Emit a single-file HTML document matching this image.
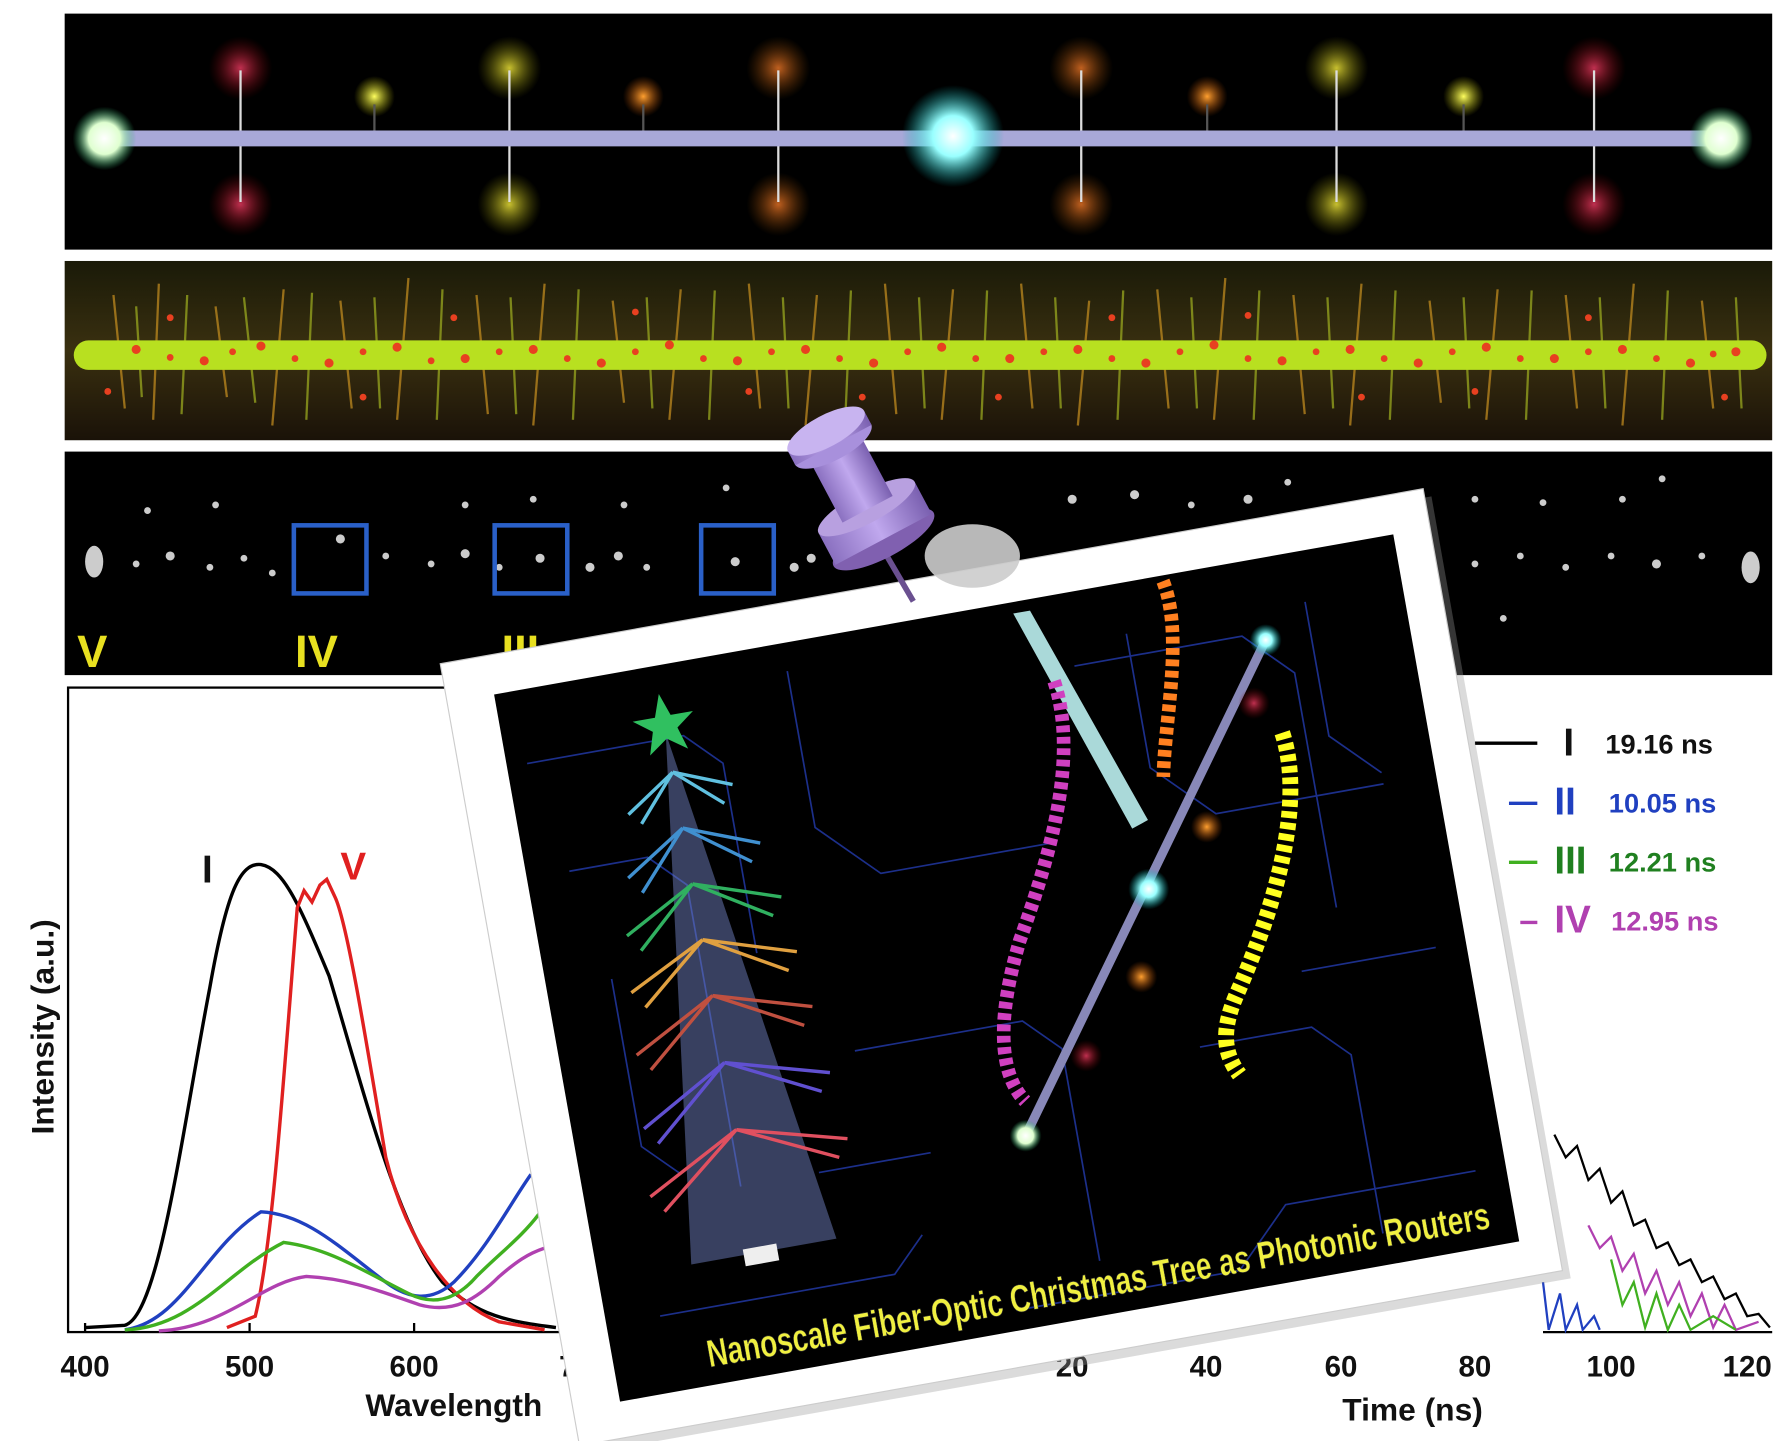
<!DOCTYPE html>
<html><head><meta charset="utf-8"><style>
html,body{margin:0;padding:0;background:#fff;}
svg{display:block;}
text{font-family:"Liberation Sans",Arial,sans-serif;font-weight:bold;}
</style></head><body>
<svg width="1779" height="1441" viewBox="0 0 1568 1270" preserveAspectRatio="none" xmlns="http://www.w3.org/2000/svg">
<defs>
<radialGradient id="gG"><stop offset="0" stop-color="#fff"/><stop offset="0.5" stop-color="#dfffd0"/><stop offset="1" stop-color="#2a6" stop-opacity="0"/></radialGradient>
<radialGradient id="gC"><stop offset="0" stop-color="#fff"/><stop offset="0.4" stop-color="#9ff"/><stop offset="1" stop-color="#0aa" stop-opacity="0"/></radialGradient>
<radialGradient id="gR"><stop offset="0" stop-color="#c03050"/><stop offset="1" stop-color="#600" stop-opacity="0"/></radialGradient>
<radialGradient id="gY"><stop offset="0" stop-color="#c8c030"/><stop offset="1" stop-color="#660" stop-opacity="0"/></radialGradient>
<radialGradient id="gO"><stop offset="0" stop-color="#c06020"/><stop offset="1" stop-color="#630" stop-opacity="0"/></radialGradient>
<radialGradient id="gYb"><stop offset="0" stop-color="#ffff60"/><stop offset="1" stop-color="#aa0" stop-opacity="0"/></radialGradient>
<radialGradient id="gOb"><stop offset="0" stop-color="#ffa030"/><stop offset="1" stop-color="#a40" stop-opacity="0"/></radialGradient>
<linearGradient id="bar2" x1="0" y1="0" x2="0" y2="1"><stop offset="0" stop-color="#1a1a08"/><stop offset="0.5" stop-color="#3a3010"/><stop offset="1" stop-color="#1a1208"/></linearGradient>
<linearGradient id="pin" x1="0" y1="0" x2="1" y2="0"><stop offset="0" stop-color="#8a70c0"/><stop offset="0.5" stop-color="#c0a8ee"/><stop offset="1" stop-color="#7a60b0"/></linearGradient>
</defs>
<rect width="1568" height="1270" fill="#fff"/>

<!-- Panel 1 -->
<rect x="57" y="12" width="1505" height="208" fill="#000"/>
<g>
<circle cx="212" cy="60" r="28" fill="url(#gR)"/><circle cx="212" cy="180" r="28" fill="url(#gR)"/>
<circle cx="449" cy="60" r="28" fill="url(#gY)"/><circle cx="449" cy="180" r="28" fill="url(#gY)"/>
<circle cx="686" cy="60" r="28" fill="url(#gO)"/><circle cx="686" cy="180" r="28" fill="url(#gO)"/>
<circle cx="953" cy="60" r="28" fill="url(#gO)"/><circle cx="953" cy="180" r="28" fill="url(#gO)"/>
<circle cx="1178" cy="60" r="28" fill="url(#gY)"/><circle cx="1178" cy="180" r="28" fill="url(#gY)"/>
<circle cx="1405" cy="60" r="28" fill="url(#gR)"/><circle cx="1405" cy="180" r="28" fill="url(#gR)"/>
<circle cx="330" cy="85" r="18" fill="url(#gYb)"/><circle cx="567" cy="85" r="18" fill="url(#gOb)"/>
<circle cx="1064" cy="85" r="18" fill="url(#gOb)"/><circle cx="1290" cy="85" r="18" fill="url(#gYb)"/>
<g stroke="#ddd" stroke-width="2">
<line x1="212" y1="62" x2="212" y2="178"/><line x1="449" y1="62" x2="449" y2="178"/><line x1="686" y1="62" x2="686" y2="178"/>
<line x1="953" y1="62" x2="953" y2="178"/><line x1="1178" y1="62" x2="1178" y2="178"/><line x1="1405" y1="62" x2="1405" y2="178"/>
</g>
<g stroke="#555" stroke-width="2"><line x1="330" y1="92" x2="330" y2="120"/><line x1="567" y1="92" x2="567" y2="120"/><line x1="1064" y1="92" x2="1064" y2="120"/><line x1="1290" y1="92" x2="1290" y2="120"/></g>
<rect x="90" y="115" width="1430" height="14" rx="7" fill="#a8a8d8"/>
<circle cx="92" cy="122" r="28" fill="url(#gG)"/><circle cx="1517" cy="122" r="28" fill="url(#gG)"/>
<ellipse cx="840" cy="120" rx="45" ry="45" fill="url(#gC)"/>
</g>

<!-- Panel 2 -->
<rect x="57" y="230" width="1505" height="158" fill="url(#bar2)"/>
<g stroke="#c89020" stroke-width="2" opacity="0.7">
<path d="M100 260 L110 360 M140 250 L135 370 M190 270 L200 350 M250 255 L240 375 M300 265 L310 360 M360 245 L350 370 M420 260 L430 365 M480 250 L470 375 M540 265 L550 355 M600 255 L590 370 M660 250 L670 360 M720 260 L710 375 M780 250 L790 365 M840 255 L830 370 M900 250 L910 360 M960 265 L950 375 M1020 255 L1030 360 M1080 245 L1070 370 M1140 260 L1150 365 M1200 250 L1190 375 M1260 265 L1270 355 M1320 255 L1310 370 M1380 260 L1390 360 M1440 250 L1430 375 M1500 265 L1510 360"/>
<path d="M120 270 L125 350 M165 260 L160 365 M215 262 L225 355 M275 258 L270 370 M330 262 L335 360 M390 255 L385 370 M450 262 L455 365 M510 255 L505 370 M570 262 L575 360 M630 256 L625 370 M690 262 L695 360 M750 256 L745 370 M810 262 L815 360 M870 256 L865 370 M930 262 L935 360 M990 256 L985 370 M1050 262 L1055 360 M1110 256 L1105 370 M1170 262 L1175 360 M1230 256 L1225 370 M1290 262 L1295 360 M1350 256 L1345 370 M1410 262 L1415 360 M1470 256 L1465 370 M1530 262 L1535 360" stroke="#a0b020"/>
</g>
<rect x="65" y="300" width="1492" height="26" rx="13" fill="#b8e020"/>
<g fill="#e84020">
<circle cx="120" cy="308" r="4"/><circle cx="180" cy="318" r="4"/><circle cx="230" cy="305" r="4"/><circle cx="290" cy="320" r="4"/><circle cx="350" cy="306" r="4"/><circle cx="410" cy="316" r="4"/><circle cx="470" cy="308" r="4"/><circle cx="530" cy="320" r="4"/><circle cx="590" cy="304" r="4"/><circle cx="650" cy="318" r="4"/><circle cx="710" cy="308" r="4"/><circle cx="770" cy="320" r="4"/><circle cx="830" cy="306" r="4"/><circle cx="890" cy="316" r="4"/><circle cx="950" cy="308" r="4"/><circle cx="1010" cy="320" r="4"/><circle cx="1070" cy="304" r="4"/><circle cx="1130" cy="318" r="4"/><circle cx="1190" cy="308" r="4"/><circle cx="1250" cy="320" r="4"/><circle cx="1310" cy="306" r="4"/><circle cx="1370" cy="316" r="4"/><circle cx="1430" cy="308" r="4"/><circle cx="1490" cy="320" r="4"/><circle cx="1530" cy="310" r="4"/>
<circle cx="150" cy="315" r="3"/><circle cx="205" cy="310" r="3"/><circle cx="260" cy="316" r="3"/><circle cx="320" cy="310" r="3"/><circle cx="380" cy="318" r="3"/><circle cx="440" cy="310" r="3"/><circle cx="500" cy="316" r="3"/><circle cx="560" cy="310" r="3"/><circle cx="620" cy="316" r="3"/><circle cx="680" cy="310" r="3"/><circle cx="740" cy="316" r="3"/><circle cx="800" cy="310" r="3"/><circle cx="860" cy="316" r="3"/><circle cx="920" cy="310" r="3"/><circle cx="980" cy="316" r="3"/><circle cx="1040" cy="310" r="3"/><circle cx="1100" cy="316" r="3"/><circle cx="1160" cy="310" r="3"/><circle cx="1220" cy="316" r="3"/><circle cx="1280" cy="310" r="3"/><circle cx="1340" cy="316" r="3"/><circle cx="1400" cy="310" r="3"/><circle cx="1460" cy="316" r="3"/><circle cx="1510" cy="312" r="3"/>
<circle cx="150" cy="280" r="3"/><circle cx="320" cy="350" r="3"/><circle cx="560" cy="275" r="3"/><circle cx="760" cy="350" r="3"/><circle cx="980" cy="280" r="3"/><circle cx="1200" cy="350" r="3"/><circle cx="1400" cy="280" r="3"/><circle cx="95" cy="345" r="3"/><circle cx="400" cy="280" r="3"/><circle cx="660" cy="345" r="3"/><circle cx="880" cy="350" r="3"/><circle cx="1100" cy="278" r="3"/><circle cx="1300" cy="345" r="3"/><circle cx="1520" cy="350" r="3"/>
</g>

<!-- Panel 3 -->
<rect x="57" y="398" width="1505" height="197" fill="#000"/>
<g fill="#ccc">
<ellipse cx="83" cy="495" rx="8" ry="14"/><ellipse cx="1543" cy="500" rx="8" ry="14"/>
<circle cx="120" cy="497" r="3"/><circle cx="150" cy="490" r="4"/><circle cx="185" cy="500" r="3"/><circle cx="215" cy="492" r="3"/><circle cx="240" cy="505" r="3"/><circle cx="300" cy="475" r="4"/><circle cx="340" cy="490" r="3"/><circle cx="380" cy="497" r="3"/><circle cx="410" cy="488" r="4"/><circle cx="440" cy="500" r="3"/><circle cx="476" cy="492" r="4"/><circle cx="520" cy="500" r="4"/><circle cx="545" cy="490" r="4"/><circle cx="570" cy="500" r="3"/><circle cx="648" cy="495" r="4"/><circle cx="700" cy="500" r="4"/><circle cx="715" cy="492" r="4"/><circle cx="130" cy="450" r="3"/><circle cx="190" cy="445" r="3"/><circle cx="410" cy="445" r="3"/><circle cx="470" cy="440" r="3"/><circle cx="550" cy="445" r="3"/><circle cx="640" cy="430" r="3"/><circle cx="945" cy="440" r="4"/><circle cx="1000" cy="436" r="4"/><circle cx="1050" cy="445" r="3"/><circle cx="1100" cy="440" r="4"/><circle cx="1135" cy="425" r="3"/><circle cx="1300" cy="440" r="3"/><circle cx="1360" cy="443" r="3"/><circle cx="1430" cy="440" r="3"/><circle cx="1465" cy="422" r="3"/><circle cx="1300" cy="497" r="3"/><circle cx="1340" cy="490" r="3"/><circle cx="1380" cy="500" r="3"/><circle cx="1420" cy="490" r="3"/><circle cx="1460" cy="497" r="4"/><circle cx="1500" cy="490" r="3"/><circle cx="1325" cy="545" r="3"/>
</g>
<g fill="none" stroke="#2a60c8" stroke-width="4">
<rect x="259" y="463" width="64" height="60"/><rect x="436" y="463" width="64" height="60"/><rect x="618" y="463" width="64" height="60"/>
</g>
<text x="68" y="588" fill="#e8e020" font-size="40">V</text>
<text x="260" y="588" fill="#e8e020" font-size="40">IV</text>
<text x="442" y="588" fill="#e8e020" font-size="40">III</text>

<!-- Left chart -->
<rect x="60" y="606" width="460" height="568" fill="none" stroke="#000" stroke-width="2"/>
<g stroke="#000" stroke-width="2"><line x1="75" y1="1174" x2="75" y2="1166"/><line x1="220" y1="1174" x2="220" y2="1166"/><line x1="365" y1="1174" x2="365" y2="1166"/></g>
<g font-size="26" fill="#111" text-anchor="middle"><text x="75" y="1213">400</text><text x="220" y="1213">500</text><text x="365" y="1213">600</text><text x="500" y="1213">7</text></g>
<text x="400" y="1248" font-size="28" fill="#111" text-anchor="middle">Wavelength</text>
<text transform="translate(47 905) rotate(-90)" font-size="28" fill="#111" text-anchor="middle">Intensity (a.u.)</text>
<text x="178" y="778" font-size="34" fill="#111">I</text>
<text x="300" y="775" font-size="34" fill="#e02020">V</text>
<g fill="none" stroke-width="3">
<path d="M75 1170 L110 1168 C140 1160 160 1000 185 870 C200 785 212 760 230 762 C250 765 265 800 290 860 C320 960 350 1080 390 1130 C420 1160 450 1165 490 1170" stroke="#000"/>
<path d="M200 1170 L225 1160 C240 1100 250 950 262 800 L268 785 L275 795 L282 780 L288 775 L295 790 C305 810 320 900 340 1020 C360 1100 400 1150 440 1165 L480 1172" stroke="#e02020"/>
<path d="M110 1172 C160 1165 180 1100 230 1068 C270 1070 300 1100 340 1130 C360 1145 380 1148 400 1130 C430 1100 450 1060 468 1035" stroke="#2040c0"/>
<path d="M110 1172 C170 1170 200 1120 250 1095 C290 1100 320 1120 360 1140 C380 1150 400 1148 420 1125 C440 1105 460 1090 475 1070" stroke="#40b020"/>
<path d="M140 1173 C200 1170 230 1130 270 1125 C310 1127 340 1140 370 1150 C400 1158 420 1145 440 1125 C455 1112 465 1105 480 1100" stroke="#b040b0"/>
</g>

<!-- Right chart -->
<g font-size="26" fill="#111" text-anchor="middle"><text x="945" y="1213">20</text><text x="1063" y="1213">40</text><text x="1182" y="1213">60</text><text x="1300" y="1213">80</text><text x="1420" y="1213">100</text><text x="1540" y="1213">120</text></g>
<text x="1245" y="1252" font-size="28" fill="#111" text-anchor="middle">Time (ns)</text>
<line x1="1360" y1="1174" x2="1562" y2="1174" stroke="#000" stroke-width="2"/>
<line x1="1300" y1="655" x2="1355" y2="655" stroke="#000" stroke-width="3"/>
<line x1="1330" y1="708" x2="1355" y2="708" stroke="#2040c0" stroke-width="3"/>
<line x1="1330" y1="760" x2="1355" y2="760" stroke="#40b020" stroke-width="3"/>
<line x1="1340" y1="813" x2="1355" y2="813" stroke="#b040b0" stroke-width="3"/>
<text x="1378" y="666" font-size="34" fill="#111">I</text><text x="1415" y="664" font-size="24" fill="#111">19.16 ns</text>
<text x="1370" y="718" font-size="34" fill="#2040c0">II</text><text x="1418" y="716" font-size="24" fill="#2040c0">10.05 ns</text>
<text x="1370" y="770" font-size="34" fill="#208020">III</text><text x="1418" y="768" font-size="24" fill="#208020">12.21 ns</text>
<text x="1370" y="822" font-size="34" fill="#b040b0">IV</text><text x="1420" y="820" font-size="24" fill="#b040b0">12.95 ns</text>
<g fill="none" stroke-width="2">
<path d="M1370 1000 L1380 1020 L1390 1010 L1400 1040 L1410 1030 L1420 1060 L1430 1050 L1440 1080 L1450 1075 L1460 1100 L1470 1095 L1480 1115 L1490 1110 L1500 1130 L1510 1125 L1520 1145 L1530 1140 L1540 1160 L1550 1158 L1560 1170" stroke="#000"/>
<path d="M1400 1080 L1410 1100 L1420 1090 L1430 1120 L1440 1105 L1450 1140 L1460 1120 L1470 1150 L1480 1130 L1490 1160 L1500 1140 L1510 1170 L1520 1150 L1530 1172 L1550 1165" stroke="#b040b0"/>
<path d="M1420 1110 L1430 1150 L1440 1130 L1450 1170 L1460 1140 L1470 1172 L1480 1150 L1490 1172 L1510 1160 L1530 1172" stroke="#40b020"/>
<path d="M1360 1130 L1365 1172 L1375 1140 L1380 1172 L1390 1150 L1395 1172 L1405 1160 L1410 1172" stroke="#2040c0"/>
</g>

<!-- Polaroid -->
<g transform="translate(388 585) rotate(-10.1)">
<rect x="6" y="8" width="880" height="700" fill="#999" opacity="0.35"/>
<rect x="0" y="0" width="880" height="700" fill="#fff" stroke="#ccc" stroke-width="1"/>
<rect x="42" y="35" width="805" height="633" fill="#000"/>
<g fill="none" stroke="#1c2f8a" stroke-width="1.5">
<path d="M60 100 L200 100 L230 130 L230 300 M80 200 L150 200 L180 230 L180 500 M300 60 L300 200 L350 250 L500 250 M600 80 L600 200 L650 250 L800 250 M700 400 L820 400 M90 600 L300 600 L330 570 M400 650 L600 650 L650 600 L820 600 M550 100 L700 100 L740 140 L740 350 M300 400 L450 400 L480 430 L480 620 M600 450 L700 450 L730 480 L730 640 M100 300 L100 450 L130 480 M250 500 L350 500 M760 80 L760 200 L800 240"/>
</g>
<polygon points="505,45 520,45 590,245 575,250" fill="#c8ffff" opacity="0.85"/>
<line x1="435" y1="500" x2="720" y2="107" stroke="#8888b8" stroke-width="8"/>
<circle cx="435" cy="500" r="14" fill="url(#gG)"/>
<circle cx="720" cy="107" r="14" fill="url(#gC)"/>
<circle cx="580" cy="305" r="18" fill="url(#gC)"/>
<circle cx="560" cy="380" r="14" fill="url(#gOb)"/><circle cx="640" cy="260" r="14" fill="url(#gOb)"/><circle cx="500" cy="440" r="14" fill="url(#gR)"/><circle cx="700" cy="160" r="14" fill="url(#gR)"/>
<path d="M530 110 C540 180 500 260 460 330 C430 390 420 440 440 470" fill="none" stroke="#d040c0" stroke-width="12" stroke-dasharray="6 4"/>
<path d="M640 40 C650 90 620 160 610 210" fill="none" stroke="#ff8020" stroke-width="12" stroke-dasharray="6 4"/>
<path d="M720 190 C730 260 680 350 640 410 C620 440 620 460 630 480" fill="none" stroke="#ffff20" stroke-width="14" stroke-dasharray="6 4"/>
<!-- tree -->
<polygon points="185,95 125,560 255,560" fill="#7080c0" opacity="0.5"/>
<g stroke-width="3" fill="none">
<path d="M185 130 L150 170 M185 130 L225 165 M185 130 L140 160 M185 130 L235 150" stroke="#60c0e0"/>
<path d="M185 180 L140 230 M185 180 L240 220 M185 180 L130 215 M185 180 L250 205" stroke="#4090d0"/>
<path d="M185 230 L130 280 M185 230 L250 270 M185 230 L120 265 M185 230 L260 255" stroke="#30b060"/>
<path d="M185 280 L125 330 M185 280 L255 320 M185 280 L115 315 M185 280 L265 305" stroke="#e0a040"/>
<path d="M185 330 L120 385 M185 330 L260 370 M185 330 L110 370 M185 330 L270 355" stroke="#c05040"/>
<path d="M185 390 L115 450 M185 390 L265 430 M185 390 L105 435 M185 390 L275 415" stroke="#6050d0"/>
<path d="M185 450 L110 510 M185 450 L270 490 M185 450 L100 495 M185 450 L280 475" stroke="#e05060"/>
</g>
<polygon points="185,60 192,80 212,80 196,92 202,112 185,100 168,112 174,92 158,80 178,80" fill="#30c060"/>
<rect x="172" y="555" width="30" height="15" fill="#eee"/>
<text transform="translate(125 652)" font-size="34" fill="#f0f040" font-weight="normal" stroke="#333" stroke-width="0.5" textLength="700" lengthAdjust="spacingAndGlyphs">Nanoscale Fiber-Optic Christmas Tree as Photonic Routers</text>
</g>

<!-- Pin -->
<line x1="770" y1="470" x2="805" y2="530" stroke="#6a5090" stroke-width="5"/>
<g transform="rotate(-28 760 440)">
<ellipse cx="760" cy="480" rx="50" ry="16" fill="#8060b0"/>
<rect x="712" y="448" width="96" height="32" fill="url(#pin)"/>
<ellipse cx="760" cy="448" rx="48" ry="14" fill="#b8a0e0"/>
<rect x="735" y="390" width="50" height="60" fill="url(#pin)"/>
<ellipse cx="760" cy="385" rx="38" ry="14" fill="#a890dc"/>
<rect x="722" y="372" width="76" height="14" fill="url(#pin)"/>
<ellipse cx="760" cy="372" rx="38" ry="14" fill="#c8b4f0"/>
</g>
<ellipse cx="857" cy="490" rx="42" ry="28" fill="#ccc" opacity="0.9"/>
</svg>
</body></html>
